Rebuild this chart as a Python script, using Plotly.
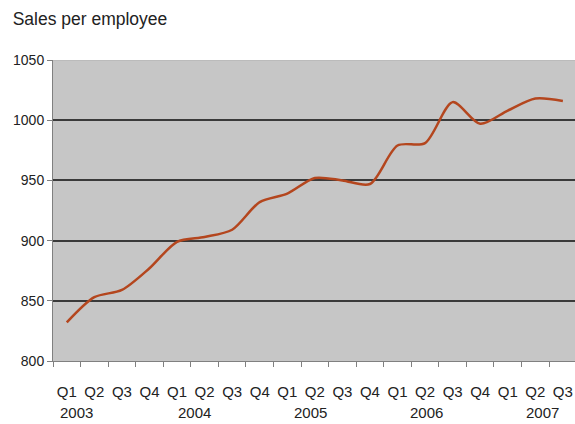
import plotly.graph_objects as go

quarters = ["Q1", "Q2", "Q3", "Q4", "Q1", "Q2", "Q3", "Q4", "Q1", "Q2", "Q3", "Q4",
            "Q1", "Q2", "Q3", "Q4", "Q1", "Q2", "Q3"]
sales = [832, 853, 859, 877, 899, 903, 909, 932, 939, 952, 950, 947,
         979, 981, 1015, 997, 1008, 1018, 1016]
years = ["2003", "2004", "2005", "2006", "2007"]
year_pos = [0.36, 4.64, 8.85, 13.06, 17.25]
y_ticks = [800, 850, 900, 950, 1000, 1050]

x = list(range(len(sales)))

fig = go.Figure()
fig.add_trace(go.Scatter(
    x=x, y=sales, mode="lines",
    line=dict(color="#B4461E", width=2.5, shape="spline", smoothing=0.8),
    hoverinfo="skip", showlegend=False,
))

for yr, pos in zip(years, year_pos):
    fig.add_annotation(x=pos, y=-0.171, xref="x", yref="paper", text=yr,
                       showarrow=False, xanchor="center", yanchor="middle",
                       font=dict(size=15, color="#222"))

fig.update_layout(
    width=575, height=424,
    margin=dict(l=53, r=0, t=60, b=63),
    paper_bgcolor="white",
    plot_bgcolor="#C6C6C6",
    font=dict(family="Liberation Sans, Arial, sans-serif", color="#222"),
    title=dict(text="Sales per employee", x=0.022, xanchor="left", y=0.955,
               yanchor="middle", font=dict(size=17.5, color="#222")),
)

fig.update_xaxes(
    range=[-0.5, 18.44], tickvals=x, ticktext=quarters,
    showgrid=False, zeroline=False,
    showline=True, linecolor="#808080", linewidth=1,
    ticks="", ticklabelstandoff=17,
    tickfont=dict(size=15, color="#222"),
    minor=dict(tickvals=[i - 0.5 for i in range(len(sales) + 1)],
               ticks="outside", ticklen=5, tickcolor="#808080", showgrid=False),
)
fig.update_yaxes(
    range=[800, 1050], tickvals=y_ticks,
    showgrid=True, gridcolor="#3A3A3A", gridwidth=1.5,
    zeroline=False, showline=True, linecolor="#808080", linewidth=1,
    ticks="outside", ticklen=5, tickcolor="#808080",
    tickfont=dict(size=14, color="#222"),
    mirror=False,
)
fig.add_shape(type="line", xref="paper", yref="y", x0=0, x1=1, y0=1050, y1=1050,
              line=dict(color="#B0B0B0", width=1))

fig.write_html("out.html")
